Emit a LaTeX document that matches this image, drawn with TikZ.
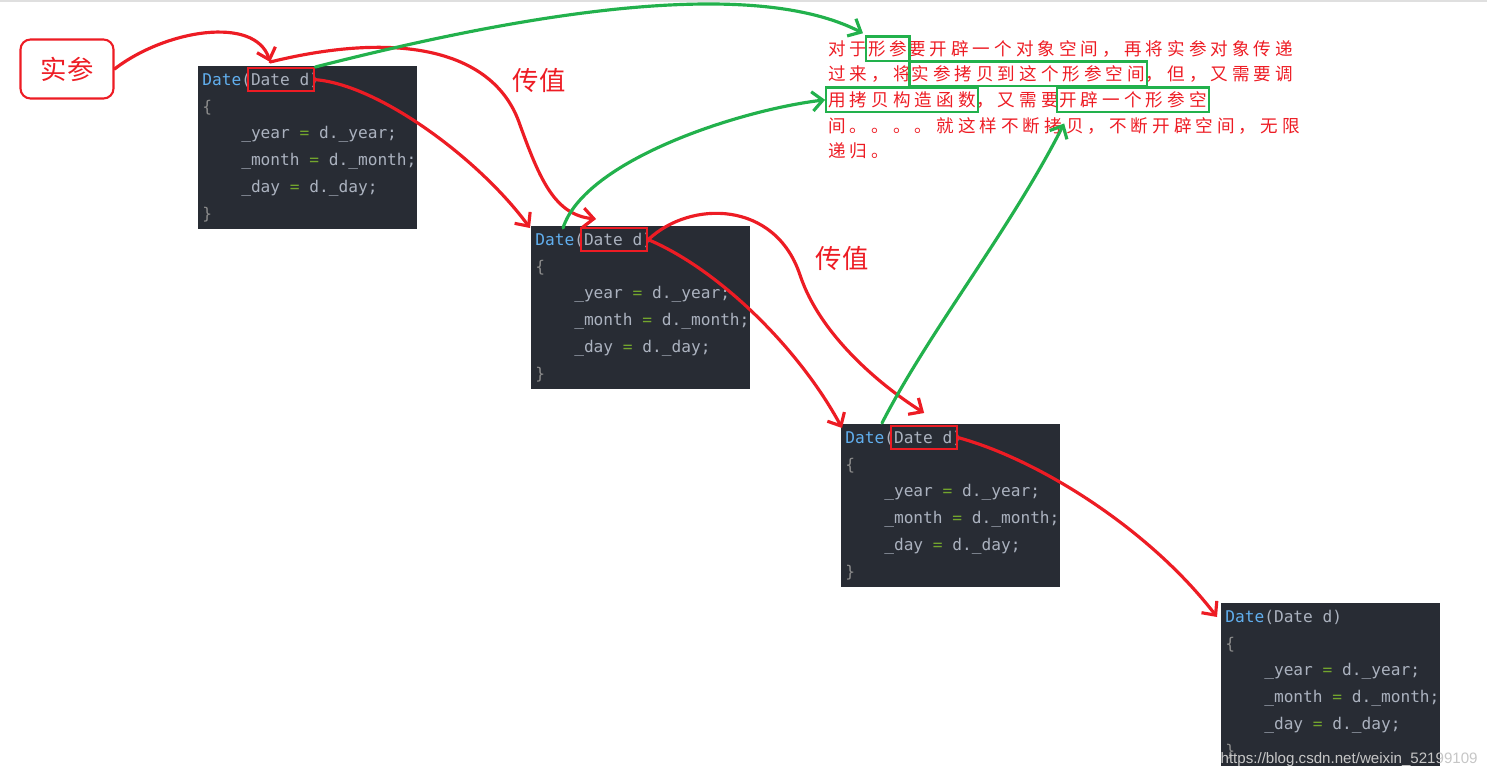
\documentclass[tikz,border=0pt]{standalone}
\usepackage{fontspec}
\setmonofont{DejaVu Sans Mono}
\newfontfamily\cjkfont{Noto Sans CJK SC}
\newfontfamily\notefont[LetterSpace=23]{Noto Sans CJK SC}
\newfontfamily\wmfont{Liberation Sans}
\usetikzlibrary{arrows.meta, positioning, fit, calc}
\definecolor{penRed}{RGB}{237, 28, 36}
\definecolor{penGreen}{RGB}{34, 177, 76}
\definecolor{codeBg}{RGB}{40, 44, 52}
\definecolor{kwBlue}{RGB}{97, 175, 239}
\definecolor{codeGray}{RGB}{171, 178, 191}
\definecolor{opGreen}{RGB}{115, 165, 45}
\definecolor{braceGray}{RGB}{140, 140, 140}
\newcommand{\codeIndent}{\hphantom{xxxx}}
\newcommand{\dateBody}{%
    \textcolor{kwBlue}{Date}(Date d)\\
    \textcolor{braceGray}{\{}\\
    \codeIndent\_year \textcolor{opGreen}{=} d.\_year;\\
    \codeIndent\_month \textcolor{opGreen}{=} d.\_month;\\
    \codeIndent\_day \textcolor{opGreen}{=} d.\_day;\\
    \textcolor{braceGray}{\}}%
}
\tikzset{
    % Code Screenshot Styles
    codeBlock/.style={
        rectangle,
        fill=codeBg,
        minimum width=4.38cm,
        minimum height=3.26cm,
        inner sep=0pt,
        anchor=north west
    },
    codeText/.style={font=\ttfamily\fontsize{9.2pt}{15.3pt}\selectfont, text=codeGray, align=left, inner sep=0pt, anchor=north west},
    paramBox/.style={rectangle, draw=penRed, line width=1.3pt, minimum width=1.32cm, minimum height=0.46cm, inner sep=0pt, anchor=north west},
    % Hand Annotation Styles
    tagBox/.style={rectangle, rounded corners=2mm, draw=penRed, line width=1.2pt, minimum width=1.86cm, minimum height=1.18cm, text=penRed, font=\cjkfont\fontsize{15pt}{17pt}\selectfont},
    tagText/.style={text=penRed, font=\cjkfont\fontsize{15pt}{17pt}\selectfont},
    noteText/.style={inner sep=0pt, text=penRed, text height=8.6pt, text depth=1.6pt, font=\notefont\fontsize{10pt}{12pt}\selectfont},
    markBox/.style={draw=penGreen, line width=1.3pt, inner xsep=1pt, inner ysep=1.8pt},
    % Arrow Styles
    handPen/.style={line width=1.8pt, line cap=round, line join=round, -{Straight Barb[length=6pt, width=11pt]}},
    redArrow/.style={handPen, draw=penRed},
    greenArrow/.style={handPen, draw=penGreen},
    waterMark/.style={text=gray!45, font=\wmfont\fontsize{8.6pt}{10pt}\selectfont, inner sep=0pt}
}
\begin{document}
\begin{tikzpicture}[x=0.02cm, y=-0.02cm]

    \useasboundingbox (0,0) rectangle (1487,778);
    \draw [gray!25, line width=1.2pt] (0,1) -- (1487,1);

    % --- CODE BLOCKS (one per recursive call) ---

    % 1. First copy constructor
    \node (box1) [codeBlock] at (198,66) {};
    \node (code1) [codeText] at ([shift={(4,6.5)}]box1.north west) {\dateBody};
    \node (p1) [paramBox] at ([shift={(49,1)}]box1.north west) {};

    % 2. Second call
    \node (box2) [codeBlock] at (531,226) {};
    \node (code2) [codeText] at ([shift={(4,6.5)}]box2.north west) {\dateBody};
    \node (p2) [paramBox] at ([shift={(49,1)}]box2.north west) {};

    % 3. Third call
    \node (box3) [codeBlock] at (841,424) {};
    \node (code3) [codeText] at ([shift={(4,6.5)}]box3.north west) {\dateBody};
    \node (p3) [paramBox] at ([shift={(49,1)}]box3.north west) {};

    % 4. Fourth call (no mark)
    \node (box4) [codeBlock] at (1221,603) {};
    \node (code4) [codeText] at ([shift={(4,6.5)}]box4.north west) {\dateBody};

    % --- LABELS ---
    \node (shican) [tagBox] at (67,69) {实参};
    \node (pass1) [tagText] at (539,80) {传值};
    \node (pass2) [tagText] at (842,258) {传值};

    % --- NOTE (line by line) ---
    \node (n11) [noteText, anchor=base west] at (828,55) {对于};
    \node (n12) [noteText, right=0pt of n11] {形参};
    \node (n13) [noteText, right=0pt of n12] {要开辟一个对象空间，再将实参对象传递};

    \node (n21) [noteText, anchor=base west] at (828,80) {过来，将};
    \node (n22) [noteText, right=0pt of n21] {实参拷贝到这个形参空间};
    \node (n23) [noteText, right=0pt of n22] {，但，又需要调};

    \node (n31) [noteText, anchor=base west] at (828,106) {用拷贝构造函数};
    \node (n32) [noteText, right=0pt of n31] {，又需要};
    \node (n33) [noteText, right=0pt of n32] {开辟一个形参空};

    \node (n41) [noteText, anchor=base west] at (828,132) {间。。。。就这样不断拷贝，不断开辟空间，无限};
    \node (n51) [noteText, anchor=base west] at (828,157) {递归。};

    % green highlights
    \node (g1) [markBox, fit=(n12)] {};
    \node (g2) [markBox, fit=(n22)] {};
    \node (g3) [markBox, fit=(n31)] {};
    \node (g4) [markBox, fit=(n33)] {};

    % --- Red Arrows (value passing) ---
    \coordinate (hit1) at ([shift={(-11,-5)}]p1.north);
    \draw [redArrow] (shican.east) .. controls (165,30) and (255,15) .. (hit1);
    \draw [redArrow] (hit1) .. controls (400,30) and (495,50) .. (520,125)
        .. controls (540,180) and (555,215) .. ([shift={(-18,-8)}]p2.north);
    \draw [redArrow] (p1.east) .. controls (380,85) and (480,160) .. ([shift={(-1,2)}]box2.north west);
    \draw [redArrow] (p2.east) .. controls (690,200) and (775,200) .. (800,275)
        .. controls (820,335) and (880,385) .. ([shift={(0,-12)}]p3.north);
    \draw [redArrow] (p2.east) .. controls (720,270) and (800,350) .. ([shift={(1,4)}]box3.north west);
    \draw [redArrow] (p3.east) .. controls (1040,460) and (1150,530) .. ([shift={(-4,14)}]box4.north west);

    % --- Green Arrows (pointing at the note) ---
    \draw [greenArrow] (p1.north east) .. controls (480,25) and (740,-30) .. ([shift={(-2,-2)}]g1.north west);
    \draw [greenArrow] ([shift={(32,2)}]box2.north west) .. controls (585,160) and (740,110) .. (g3.west);
    \draw [greenArrow] ([shift={(41,-1)}]box3.north west) .. controls (930,330) and (1010,230) .. ([shift={(8,10)}]g4.south west);

    % --- Watermark ---
    \node (wm) [waterMark, anchor=east] at (1478,760) {https://blog.csdn.net/weixin\_52199109};

\end{tikzpicture}
\end{document}
